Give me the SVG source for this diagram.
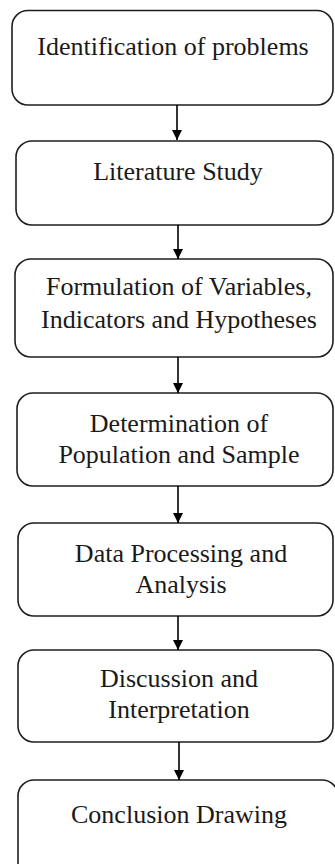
<svg xmlns="http://www.w3.org/2000/svg" width="335" height="864" viewBox="0 0 335 864">
<defs>
<style>
.box{fill:#fff;stroke:#1e1e1e;stroke-width:1.6}
.lbl{font-family:'Liberation Serif','DejaVu Serif','Times New Roman',serif;font-size:26px;fill:#1a1a1a;text-anchor:middle}
.con{stroke:#000;stroke-width:1.6;fill:none}
</style>
<marker id="ah" viewBox="0 0 10 10" refX="10" refY="5" markerWidth="10" markerHeight="10" markerUnits="userSpaceOnUse" orient="auto">
<path d="M0,0 L10,5 L0,10 z" fill="#000"/>
</marker>
</defs>
<rect width="335" height="864" fill="#fff"/>
<g id="n1"><rect class="box" x="12" y="10.5" width="321" height="94.5" rx="16"/><text class="lbl" font-family="Liberation Serif, serif" x="173" y="55">Identification of problems</text></g>
<g id="n2"><rect class="box" x="16" y="141" width="317" height="84" rx="16"/><text class="lbl" font-family="Liberation Serif, serif" x="178" y="180">Literature Study</text></g>
<g id="n3"><rect class="box" x="15" y="259" width="318" height="98" rx="16"/><text class="lbl" font-family="Liberation Serif, serif" x="179" y="295">Formulation of Variables,</text><text class="lbl" font-family="Liberation Serif, serif" x="179" y="328">Indicators and Hypotheses</text></g>
<g id="n4"><rect class="box" x="17" y="393" width="316" height="93" rx="16"/><text class="lbl" font-family="Liberation Serif, serif" x="179" y="432">Determination of</text><text class="lbl" font-family="Liberation Serif, serif" x="179" y="463">Population and Sample</text></g>
<g id="n5"><rect class="box" x="18" y="523" width="315" height="93" rx="16"/><text class="lbl" font-family="Liberation Serif, serif" x="181" y="562">Data Processing and</text><text class="lbl" font-family="Liberation Serif, serif" x="181" y="593">Analysis</text></g>
<g id="n6"><rect class="box" x="18" y="650" width="315" height="92" rx="16"/><text class="lbl" font-family="Liberation Serif, serif" x="179" y="687">Discussion and</text><text class="lbl" font-family="Liberation Serif, serif" x="179" y="718">Interpretation</text></g>
<g id="n7"><rect class="box" x="18" y="780" width="320" height="100" rx="16"/><text class="lbl" font-family="Liberation Serif, serif" x="179" y="823">Conclusion Drawing</text></g>
<g id="connectors">
<line class="con" x1="177" y1="105" x2="177" y2="140" marker-end="url(#ah)"/>
<line class="con" x1="178" y1="225" x2="178" y2="259" marker-end="url(#ah)"/>
<line class="con" x1="178" y1="357" x2="178" y2="393" marker-end="url(#ah)"/>
<line class="con" x1="178" y1="486" x2="178" y2="523" marker-end="url(#ah)"/>
<line class="con" x1="178" y1="616" x2="178" y2="650" marker-end="url(#ah)"/>
<line class="con" x1="179" y1="742" x2="179" y2="780" marker-end="url(#ah)"/>
</g>
</svg>
